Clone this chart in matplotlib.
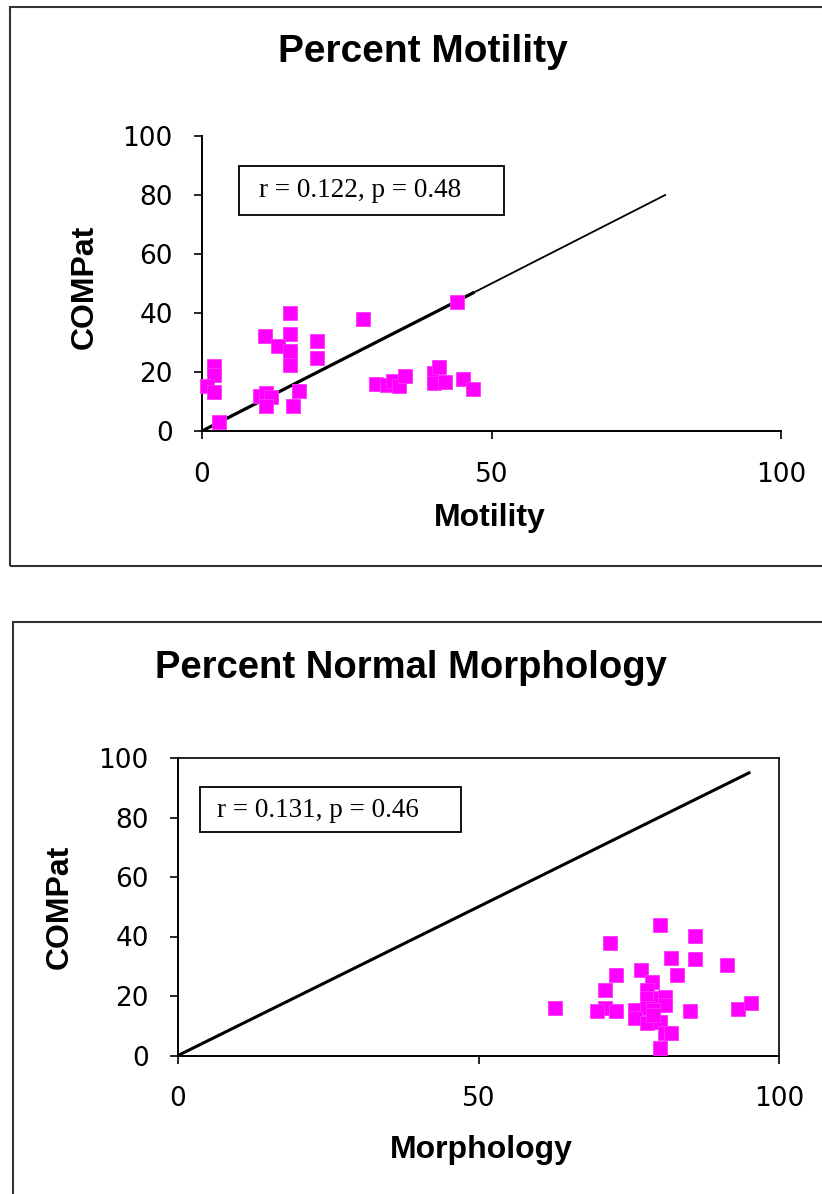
import matplotlib
matplotlib.use("Agg")
import matplotlib.pyplot as plt
from matplotlib.patches import Rectangle

plt.rcParams['font.family'] = ['Liberation Sans', 'DejaVu Sans']

# Percent motility vs COMPat
motility = [15.2, 27.8, 44.0, 10.9, 15.2, 13.1, 15.2, 19.9, 19.9, 15.2, 2.0, 2.0,
            0.9, 2.0, 2.9, 10.0, 11.0, 12.0, 11.0, 16.7, 15.8, 30.0, 32.0, 33.0,
            34.0, 35.0, 40.0, 40.9, 40.0, 42.0, 45.0, 46.8]
compat_mot = [40.0, 38.1, 43.8, 32.2, 33.0, 28.8, 27.0, 30.5, 24.6, 22.3, 22.0, 19.0,
              15.4, 13.2, 3.2, 12.0, 13.0, 11.5, 8.5, 13.6, 8.4, 16.0, 15.6, 16.9,
              15.1, 18.8, 19.8, 21.7, 16.4, 16.6, 17.7, 14.3]
line_mot = [0, 80]
stats_mot = "r = 0.122, p = 0.48"

# Percent normal morphology vs COMPat
morphology = [80.2, 86.1, 71.9, 82.0, 86.1, 91.3, 77.0, 72.9, 83.0, 78.9, 71.0, 78.0,
              78.0, 80.2, 81.1, 81.1, 62.7, 71.0, 69.7, 72.9, 76.0, 78.0, 79.1, 85.2,
              93.1, 95.3, 76.0, 78.0, 80.2, 81.1, 82.0, 80.2, 79.1]
compat_morph = [43.8, 40.2, 37.8, 32.9, 32.4, 30.5, 28.8, 26.9, 26.9, 24.6, 22.1, 22.1,
                19.3, 19.3, 19.6, 17.0, 16.1, 15.9, 15.0, 15.0, 15.3, 15.9, 15.3, 15.0,
                15.5, 17.6, 12.5, 10.8, 11.4, 7.7, 7.7, 2.4, 13.6]
line_morph = [0, 95]
stats_morph = "r = 0.131, p = 0.46"

x_ticks = [0, 50, 100]
y_ticks = [0, 20, 40, 60, 80, 100]

W, H = 822, 1194
fig = plt.figure(figsize=(W / 100, H / 100), dpi=100)
fig.patch.set_facecolor('white')

# outer chart borders (they run off the right / bottom edge)
fig.add_artist(Rectangle((9.5 / W, 1 - 566 / H), 1.0, 559 / H, transform=fig.transFigure,
                         fill=False, edgecolor='#333333', lw=1.5))
fig.add_artist(Rectangle((12.7 / W, -0.05), 1.0, 1 - 621.5 / H + 0.05,
                         transform=fig.transFigure, fill=False, edgecolor='#333333', lw=1.5))


def style_axes(ax, boxed):
    ax.set_xlim(0, 100)
    ax.set_ylim(0, 100)
    ax.set_xticks(x_ticks)
    ax.set_yticks(y_ticks)
    ax.tick_params(direction='out', length=6, width=1.2, labelsize=19, pad=15)
    ax.tick_params(axis='x', pad=16)
    for lbl in ax.get_xticklabels() + ax.get_yticklabels():
        lbl.set_family('DejaVu Sans')
    for side in ['left', 'bottom']:
        ax.spines[side].set_linewidth(1.4)
    for side in ['top', 'right']:
        ax.spines[side].set_visible(boxed)
        ax.spines[side].set_linewidth(1.2)
    ax.set_facecolor('white')


def stats_box(ax, box, text_x, text_y, text):
    x0, x1, y0, y1 = box
    ax.add_patch(Rectangle((x0, y0), x1 - x0, y1 - y0, transform=ax.transAxes,
                           fill=False, edgecolor='black', lw=1.3, zorder=4))
    ax.text(text_x, text_y, text, transform=ax.transAxes, ha='left', va='center',
            fontsize=19.5, family=['Liberation Serif', 'DejaVu Serif'], zorder=5)


# top chart
ax1 = fig.add_axes([202 / W, 1 - 431 / H, 579 / W, 295 / H])
style_axes(ax1, False)
ax1.plot(line_mot, line_mot, color='black', lw=1.3, zorder=2, clip_on=False)
ax1.plot([0, max(motility)], [0, max(motility)], color='black', lw=2.3, zorder=2)
ax1.plot(motility, compat_mot, 's', color='#FF00FF', ms=9.6, mec='#FF33FF', mew=0.6,
         zorder=3, clip_on=False, linestyle='none')
stats_box(ax1, (0.064, 0.5216, 0.732, 0.898), 0.098, 0.815, stats_mot)
fig.text(423 / W, 1 - 52 / H, "Percent Motility", ha='center', va='center',
         fontsize=28, fontweight='bold')
fig.text(85 / W, 1 - 287 / H, "COMPat", ha='center', va='center', rotation=90,
         fontsize=23, fontweight='bold')
fig.text(490 / W, 1 - 518 / H, "Motility", ha='center', va='center',
         fontsize=23, fontweight='bold')

# bottom chart
ax2 = fig.add_axes([178 / W, 1 - 1055.5 / H, 601 / W, 297.5 / H])
style_axes(ax2, True)
ax2.plot(line_morph, line_morph, color='black', lw=2.2, zorder=2)
ax2.plot(morphology, compat_morph, 's', color='#FF00FF', ms=9.6, mec='#FF33FF', mew=0.6,
         zorder=3, clip_on=False, linestyle='none')
stats_box(ax2, (0.0366, 0.471, 0.751, 0.9025), 0.065, 0.825, stats_morph)
fig.text(411 / W, 1 - 668 / H, "Percent Normal Morphology", ha='center', va='center',
         fontsize=27.5, fontweight='bold')
fig.text(60 / W, 1 - 907 / H, "COMPat", ha='center', va='center', rotation=90,
         fontsize=23, fontweight='bold')
fig.text(481 / W, 1 - 1150 / H, "Morphology", ha='center', va='center',
         fontsize=23, fontweight='bold')

fig.savefig('out.png', dpi=100, facecolor='white')
